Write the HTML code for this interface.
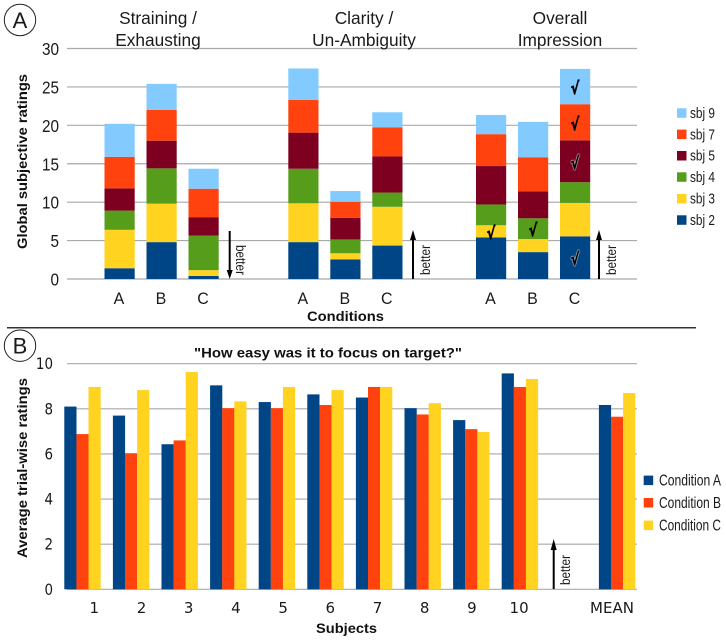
<!DOCTYPE html>
<html>
<head>
<meta charset="utf-8">
<title>Subjective ratings charts</title>
<style>
html,body{margin:0;padding:0;background:#fff;}
svg{display:block;}
text{font-family:"Liberation Sans",Arial,sans-serif;fill:#1a1a1a;}
.b{font-weight:bold;fill:#111;}
.dj{font-family:"DejaVu Sans",sans-serif;}
</style>
</head>
<body>
<svg id="chart" xmlns="http://www.w3.org/2000/svg" width="726" height="641" viewBox="0 0 726 641">
  <circle cx="20" cy="20" r="15.7" fill="#fff" stroke="#222" stroke-width="1"/>
  <text x="20" y="28" font-size="22" text-anchor="middle">A</text>
  <circle cx="20" cy="345.7" r="15.7" fill="#fff" stroke="#222" stroke-width="1"/>
  <text x="20" y="353.5" font-size="22" text-anchor="middle">B</text>
  <line x1="7" x2="696" y1="327.7" y2="327.7" stroke="#333" stroke-width="1.5"/>

  <g id="gridA"></g>
  <g id="gridB"></g>
  <g id="barsA"></g>
  <g id="barsB"></g>
  <g id="axesA"></g>
  <g id="axesB"></g>
  <g id="checks"></g>

  <text x="158" y="24" font-size="17.3" text-anchor="middle">Straining /</text>
  <text x="158" y="46" font-size="17.3" text-anchor="middle">Exhausting</text>
  <text x="364" y="24" font-size="17.3" text-anchor="middle">Clarity /</text>
  <text x="364" y="46" font-size="17.3" text-anchor="middle">Un-Ambiguity</text>
  <text x="560" y="24" font-size="17.3" text-anchor="middle">Overall</text>
  <text x="560" y="46" font-size="17.3" text-anchor="middle">Impression</text>

  <text class="b" transform="translate(27,249) rotate(-90)" font-size="13.5" textLength="175" lengthAdjust="spacingAndGlyphs">Global subjective ratings</text>
  <text class="b" x="307" y="321" font-size="13.5" textLength="77" lengthAdjust="spacingAndGlyphs">Conditions</text>
  <text class="b" transform="translate(27,558) rotate(-90)" font-size="13.5" textLength="180" lengthAdjust="spacingAndGlyphs">Average trial-wise ratings</text>
  <text class="b" x="316" y="633" font-size="13.5" textLength="61" lengthAdjust="spacingAndGlyphs">Subjects</text>
  <text class="b" x="194" y="357.5" font-size="14" textLength="268" lengthAdjust="spacingAndGlyphs">"How easy was it to focus on target?"</text>

  <g>
    <line x1="229.7" x2="229.7" y1="231" y2="272" stroke="#000" stroke-width="2"/>
    <polygon points="226.7,270 232.7,270 229.7,279" fill="#000"/>
    <text transform="translate(236,245) rotate(90)" font-size="14" textLength="30" lengthAdjust="spacingAndGlyphs">better</text>
  </g>
  <g>
    <line x1="413" x2="413" y1="279" y2="238" stroke="#000" stroke-width="2"/>
    <polygon points="410,240 416,240 413,230" fill="#000"/>
    <text transform="translate(430,275) rotate(-90)" font-size="14" textLength="30" lengthAdjust="spacingAndGlyphs">better</text>
  </g>
  <g>
    <line x1="599" x2="599" y1="279" y2="238" stroke="#000" stroke-width="2"/>
    <polygon points="596,240 602,240 599,230" fill="#000"/>
    <text transform="translate(616,275) rotate(-90)" font-size="14" textLength="30" lengthAdjust="spacingAndGlyphs">better</text>
  </g>
  <g>
    <line x1="553.7" x2="553.7" y1="589" y2="548" stroke="#000" stroke-width="2"/>
    <polygon points="550.7,550 556.7,550 553.7,539" fill="#000"/>
    <text transform="translate(570,585) rotate(-90)" font-size="14" textLength="30" lengthAdjust="spacingAndGlyphs">better</text>
  </g>

  <g>
    <g><rect x="677" y="108.3" width="9.5" height="9.5" fill="#83caff"/><text x="690" y="118" font-size="15" textLength="25" lengthAdjust="spacingAndGlyphs">sbj 9</text></g>
    <g><rect x="677" y="129.6" width="9.5" height="9.5" fill="#ff420e"/><text x="690" y="139.3" font-size="15" textLength="25" lengthAdjust="spacingAndGlyphs">sbj 7</text></g>
    <g><rect x="677" y="151" width="9.5" height="9.5" fill="#7e0021"/><text x="690" y="160.7" font-size="15" textLength="25" lengthAdjust="spacingAndGlyphs">sbj 5</text></g>
    <g><rect x="677" y="172.3" width="9.5" height="9.5" fill="#579d1c"/><text x="690" y="182" font-size="15" textLength="25" lengthAdjust="spacingAndGlyphs">sbj 4</text></g>
    <g><rect x="677" y="194" width="9.5" height="9.5" fill="#ffd320"/><text x="690" y="203.7" font-size="15" textLength="25" lengthAdjust="spacingAndGlyphs">sbj 3</text></g>
    <g><rect x="677" y="215.3" width="9.5" height="9.5" fill="#004586"/><text x="690" y="225" font-size="15" textLength="25" lengthAdjust="spacingAndGlyphs">sbj 2</text></g>
  </g>
  <g>
    <g><rect x="643.7" y="475.6" width="9.5" height="9.5" fill="#004586"/><text x="659" y="485.5" font-size="15.5" textLength="62" lengthAdjust="spacingAndGlyphs">Condition A</text></g>
    <g><rect x="643.7" y="498" width="9.5" height="9.5" fill="#ff420e"/><text x="659" y="508" font-size="15.5" textLength="62" lengthAdjust="spacingAndGlyphs">Condition B</text></g>
    <g><rect x="643.7" y="520.6" width="9.5" height="9.5" fill="#ffd320"/><text x="659" y="530.5" font-size="15.5" textLength="62" lengthAdjust="spacingAndGlyphs">Condition C</text></g>
  </g>
</svg>
<script>
// ---- Panel A data ----
const metricsA = ['Straining', 'Clarity', 'Overall'];
const conditionsA = ['A', 'B', 'C'];
const subjectsA = ['sbj 2', 'sbj 3', 'sbj 4', 'sbj 5', 'sbj 7', 'sbj 9'];
const strainingA = [1.4, 5.0, 2.5, 2.9, 4.1, 4.3];
const strainingB = [4.8, 5.0, 4.6, 3.6, 4.0, 3.4];
const strainingC = [0.4, 0.75, 4.5, 2.4, 3.7, 2.6];
const clarityA = [4.8, 5.05, 4.5, 4.7, 4.25, 4.1];
const clarityB = [2.55, 0.8, 1.8, 2.8, 2.1, 1.4];
const clarityC = [4.35, 5.05, 1.85, 4.7, 3.8, 1.95];
const overallA = [5.4, 1.6, 2.7, 5.0, 4.15, 2.5];
const overallB = [3.5, 1.7, 2.7, 3.5, 4.45, 4.6];
const overallC = [5.55, 4.35, 2.7, 5.45, 4.7, 4.6];
const ticksA = [0, 5, 10, 15, 20, 25, 30];
// Significant segments: metric, condition, subject indices
const checkMarks = [[2,0,1],[2,1,2],[2,2,0],[2,2,3],[2,2,4],[2,2,5]];

// ---- Panel B data ----
const subjectsB = ['1', '2', '3', '4', '5', '6', '7', '8', '9', '10', '', 'MEAN'];
const conditionAValues = [8.1, 7.7, 6.43, 9.04, 8.3, 8.64, 8.5, 8.03, 7.5, 9.57, null, 8.17];
const conditionBValues = [6.88, 6.03, 6.6, 8.03, 8.03, 8.17, 8.97, 7.75, 7.1, 8.97, null, 7.65];
const conditionCValues = [8.97, 8.83, 9.63, 8.33, 8.97, 8.83, 8.97, 8.25, 6.97, 9.32, null, 8.7];
const ticksB = [0, 2, 4, 6, 8, 10];

const SVGNS = 'http://www.w3.org/2000/svg';
const colorsA = ['#004586', '#ffd320', '#579d1c', '#7e0021', '#ff420e', '#83caff'];
const colorsB = ['#004586', '#ff420e', '#ffd320'];

function yA(v) { return 279 - v * (230.5 / 30); }
function yB(v) { return 589.3 - v * (225.6 / 10); }
function groupLeftA(m) { return m === 0 ? 104.5 : m === 1 ? 288.3 : 476; }
function barLeftA(m, c) { return groupLeftA(m) + c * 42; }
function barLeftB(i, c) { return 64.3 + i * 48.6 + c * 12.1; }
function labelXB(i) { return 94.3 + i * 47.2; }
function make(tag, parent) {
  const n = document.createElementNS(SVGNS, tag);
  parent.appendChild(n);
  return n;
}
function set(n, attrs) {
  for (const k in attrs) n.setAttribute(k, attrs[k]);
}

const gridA = document.getElementById('gridA');
const gridB = document.getElementById('gridB');
const barsA = document.getElementById('barsA');
const barsB = document.getElementById('barsB');
const axesA = document.getElementById('axesA');
const axesB = document.getElementById('axesB');
const checks = document.getElementById('checks');

ticksA.forEach(function (t) {
  const line = make('line', gridA);
  
  
  set(line, {x1: 67, x2: 637, y1: yA(t), y2: yA(t), stroke: '#a9a9a9', 'stroke-width': 1.2});
  const label = make('text', axesA);
  
  
  set(label, {'font-size': 18, 'text-anchor': 'end', transform: 'translate(59,' + (yA(t) + 6.5) + ') scale(0.85,1)'});
  label.textContent = String(t);
});

ticksB.forEach(function (t) {
  const line = make('line', gridB);
  
  
  set(line, {x1: 67, x2: 637, y1: yB(t), y2: yB(t), stroke: '#a9a9a9', 'stroke-width': 1.2});
  const label = make('text', axesB);
  
  
  label.setAttribute('class', 'dj');
  set(label, {'font-size': 16, 'text-anchor': 'end', transform: 'translate(53,' + (yB(t) + 5.5) + ') scale(0.84,1)'});
  label.textContent = String(t);
});

const stacksA = [
  [strainingA, strainingB, strainingC],
  [clarityA, clarityB, clarityC],
  [overallA, overallB, overallC]
];

metricsA.forEach(function (metric, m) {
  conditionsA.forEach(function (cond, c) {
    let base = 0;
    subjectsA.forEach(function (sbj, s) {
      const value = stacksA[m][c][s];
      const rect = make('rect', barsA);
      
      
      set(rect, {x: barLeftA(m, c), y: yA(base + value), width: 30.2, height: yA(base) - yA(base + value), fill: colorsA[s]});
      base += value;
    });
    const label = make('text', axesA);
    
    
    set(label, {'font-size': 17, 'text-anchor': 'middle', transform: 'translate(' + (barLeftA(m, c) + 14.5) + ',304) scale(0.94,1)'});
    label.textContent = cond;
  });
});

checkMarks.forEach(function (mark) {
  const m = mark[0], c = mark[1], s = mark[2];
  const vals = stacksA[m][c];
  let base = 0;
  for (let i = 0; i < s; i++) base += vals[i];
  const mid = base + vals[s] / 2;
  const t = make('text', checks);
  
  
  const dark = s === 0 || s === 3;
  set(t, {'font-size': 17, 'font-weight': 'bold', 'text-anchor': 'middle',
    transform: 'translate(' + (barLeftA(m, c) + 15) + ',' + (yA(mid) + 7.5) + ') scale(0.75,1)',
    style: 'font-family:"DejaVu Sans",sans-serif;fill:#000;stroke:#000;stroke-width:0.7px;' + (dark ? 'filter:drop-shadow(0 0 0.6px #fff) drop-shadow(0 0 0.4px #fff);' : '')});
  t.textContent = '\u221A';
});

const seriesB = [conditionAValues, conditionBValues, conditionCValues];
subjectsB.forEach(function (subject, i) {
  seriesB.forEach(function (series, c) {
    const value = series[i];
    if (value === null) return;
    const rect = make('rect', barsB);
    
    
    set(rect, {x: barLeftB(i, c), y: yB(value), width: 12.2, height: yB(0) - yB(value), fill: colorsB[c]});
  });
  if (subject) {
    const label = make('text', axesB);
    
    
    label.setAttribute('class', 'dj');
    set(label, {x: labelXB(i) - (subject === 'MEAN' ? 1.5 : 0), y: 613, 'font-size': 15, 'text-anchor': 'middle'});
    label.textContent = subject;
  }
});
</script>
</body>
</html>
